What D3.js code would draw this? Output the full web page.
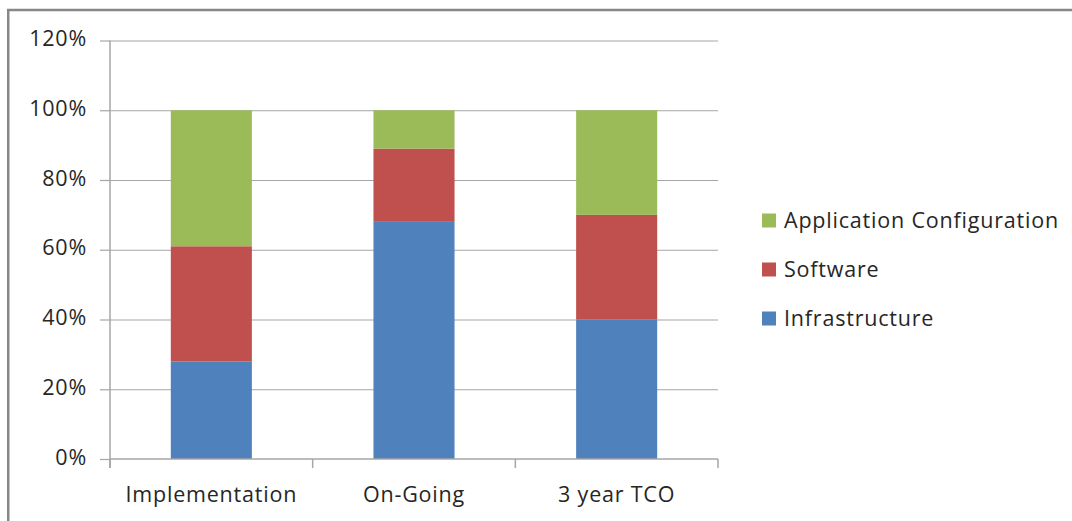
<!DOCTYPE html>
<html>
<head>
<meta charset="utf-8">
<script src="https://cdn.jsdelivr.net/npm/d3@7"></script>
<style>
  body { margin: 0; background: #fff; }
  svg { display: block; }
  text { font-family: "Open Sans", sans-serif; font-size: 21.5px; letter-spacing: 0.8px; fill: #262626; }
</style>
</head>
<body>
<div id="chart"></div>
<script>
const width = 1072;
const height = 521;

// values (percent of total)
const categories = ["Implementation", "On-Going", "3 year TCO"];
const infrastructure = [28, 68, 40];
const software = [33, 21, 30];
const appConfig = [39, 11, 30];
const yTicks = [0, 20, 40, 60, 80, 100, 120];

const seriesNames = ["Infrastructure", "Software", "Application Configuration"];
const seriesColors = ["#4F81BD", "#C0504D", "#9BBB59"];

// build rows for d3.stack
const rows = categories.map((c, i) => ({
  cat: c,
  "Infrastructure": infrastructure[i],
  "Software": software[i],
  "Application Configuration": appConfig[i]
}));

const plot = { left: 110, right: 718, top: 40.5, bottom: 459 };

const x = d3.scaleBand()
  .domain(categories)
  .range([plot.left, plot.right])
  .padding(0);

const y = d3.scaleLinear()
  .domain([0, 120])
  .range([plot.bottom, plot.top]);

const color = d3.scaleOrdinal().domain(seriesNames).range(seriesColors);

const svg = d3.select("#chart").append("svg")
  .attr("width", width)
  .attr("height", height);

// outer chart border (runs off the right and bottom edges)
svg.append("rect")
  .attr("x", 8.25)
  .attr("y", 10)
  .attr("width", 1200)
  .attr("height", 700)
  .attr("fill", "none")
  .attr("stroke", "#878787")
  .attr("stroke-width", 2.5);

// gridlines
svg.append("g")
  .attr("transform", `translate(${plot.left},0)`)
  .call(d3.axisLeft(y).tickValues(yTicks.filter(d => d > 0))
    .tickSize(-(plot.right - plot.left)).tickFormat(""))
  .call(g => g.select(".domain").remove())
  .call(g => g.selectAll("line").attr("stroke", "#a6a6a6").attr("stroke-width", 1.2));

// stacked bars
const stack = d3.stack().keys(seriesNames);
const layers = stack(rows);
const barW = x.bandwidth() / 2.5;

svg.append("g")
  .selectAll("g")
  .data(layers)
  .join("g")
  .attr("fill", d => color(d.key))
  .selectAll("rect")
  .data(d => d)
  .join("rect")
  .attr("x", d => x(d.data.cat) + (x.bandwidth() - barW) / 2)
  .attr("width", barW)
  .attr("y", d => y(d[1]))
  .attr("height", d => y(d[0]) - y(d[1]));

// y axis
svg.append("g")
  .attr("transform", `translate(${plot.left},0)`)
  .call(d3.axisLeft(y).tickValues(yTicks).tickSize(10).tickSizeOuter(0)
    .tickPadding(13).tickFormat(d => d + "%"))
  .call(g => g.select(".domain").remove())
  .call(g => g.selectAll("line").attr("stroke", "#a6a6a6").attr("stroke-width", 1.2))
  .call(g => g.selectAll("text").attr("dy", "0.24em").attr("fill", "#262626")
    .style("font-family", "'Open Sans', sans-serif").style("font-size", "21.5px"));

svg.append("line")
  .attr("x1", plot.left).attr("x2", plot.left)
  .attr("y1", plot.top).attr("y2", plot.bottom + 9)
  .attr("stroke", "#a6a6a6").attr("stroke-width", 1.5);

// x axis
svg.append("g")
  .attr("transform", `translate(0,${plot.bottom})`)
  .call(d3.axisBottom(x).tickSize(0).tickPadding(28))
  .call(g => g.select(".domain").remove())
  .call(g => g.selectAll("text").attr("fill", "#262626")
    .style("font-family", "'Open Sans', sans-serif").style("font-size", "21.5px"));

svg.append("line")
  .attr("x1", plot.left).attr("x2", plot.right)
  .attr("y1", plot.bottom).attr("y2", plot.bottom)
  .attr("stroke", "#a6a6a6").attr("stroke-width", 1.5);

const catEdges = categories.map(c => x(c)).concat([x(categories[categories.length - 1]) + x.bandwidth()]);
svg.append("g")
  .selectAll("line")
  .data(catEdges)
  .join("line")
  .attr("x1", d => d).attr("x2", d => d)
  .attr("y1", plot.bottom).attr("y2", plot.bottom + 9)
  .attr("stroke", "#a6a6a6").attr("stroke-width", 1.5);

// legend, drawn top to bottom in reverse stack order
const legendItems = seriesNames.slice().reverse();
const legend = svg.append("g")
  .selectAll("g")
  .data(legendItems)
  .join("g")
  .attr("transform", (d, i) => `translate(762,${220.5 + i * 49})`);

legend.append("rect")
  .attr("x", 0).attr("y", -7)
  .attr("width", 14).attr("height", 14)
  .attr("fill", d => color(d));

legend.append("text")
  .attr("x", 22)
  .attr("y", 7)
  .text(d => d);
</script>
</body>
</html>
